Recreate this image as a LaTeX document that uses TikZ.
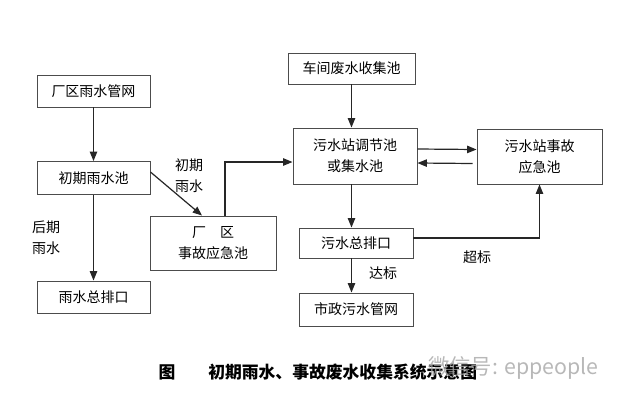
\documentclass[tikz,border=0pt]{standalone}
\usepackage{fontspec}
\setmainfont{Noto Sans CJK SC}
\usepackage{tikz}
\usetikzlibrary{arrows.meta,calc}

\tikzset{
  box/.style={draw=black!70,line width=0.7pt,inner sep=0pt,align=center,font=\fontsize{10.5}{16}\selectfont},
  lbl/.style={inner sep=0pt,align=center,font=\fontsize{10.5}{16}\selectfont},
  arr/.style={draw=black!85,line width=0.9pt,-{Triangle[length=7pt,width=5.5pt]}}
}

\begin{document}
\begin{tikzpicture}[x=0.75pt,y=0.75pt,yscale=-1,xscale=1]
\useasboundingbox (0,0) rectangle (640,401);

% left column: rain water
\node [box,minimum width=84.75pt,minimum height=24pt] (rainnet) at (93.5,91) {厂区雨水管网};
\node [box,minimum width=84.75pt,minimum height=24.75pt] (firstpool) at (93.5,178) {初期雨水池};
\node [box,minimum width=84.75pt,minimum height=24pt] (rainout) at (93.5,297) {雨水总排口};
\node [box,minimum width=94.5pt,minimum height=40.5pt] (plantpool) at (213,243) {厂　区\\事故应急池};

% middle and right: waste water
\node [box,minimum width=95.25pt,minimum height=23.25pt] (workshop) at (351.5,68.5) {车间废水收集池};
\node [box,minimum width=93pt,minimum height=42pt] (regpool) at (355,156) {污水站调节池\\或集水池};
\node [box,minimum width=93.75pt,minimum height=41.25pt] (stnpool) at (539.5,156.5) {污水站事故\\应急池};
\node [box,minimum width=85.5pt,minimum height=22.5pt] (sewout) at (356,243) {污水总排口};
\node [box,minimum width=85.5pt,minimum height=24.75pt] (citynet) at (356,309.5) {市政污水管网};

% labels
\node [lbl] (lblfirst) at (189,176) {初期\\雨水};
\node [lbl] (lbllater) at (46,238) {后期\\雨水};
\node [lbl] (lblok) at (383,273) {达标};
\node [lbl] (lblover) at (477,257) {超标};

% arrows
\draw [arr] (rainnet) -- (firstpool);
\draw [arr] (firstpool) -- (rainout);
\draw [arr] ($(firstpool.east)+(0,-6)$) -- ($(plantpool.north)+(-11,0)$);
\draw [arr] ($(plantpool.north)+(12,0)$) |- ($(regpool.west)+(0,6)$);
\draw [arr] (workshop.south) -- (workshop.south |- regpool.north);
\draw [arr] ($(regpool.east)+(0,-7)$) -- ($(stnpool.west)+(0,-7)$);
\draw [arr] ($(stnpool.west)+(-4,7)$) -- ($(regpool.east)+(0,7)$);
\draw [arr] (regpool.south -| workshop.south) -- (sewout.north -| workshop.south);
\draw [arr] (sewout.south -| workshop.south) -- (citynet.north -| workshop.south);
\draw [arr] ($(sewout.east)+(0,-5)$) -| (stnpool.south);

% caption
\node [inner sep=0pt,font=\fontsize{12.6}{14}\selectfont\bfseries] (fig) at (167,372) {图};
\node [inner sep=0pt,anchor=west,font=\fontsize{12.6}{14}\selectfont\bfseries] (caption) at (208,372) {初期雨水、事故废水收集系统示意图};
\node [inner sep=0pt,anchor=west,text=black!35,opacity=0.8,font=\fontsize{16}{18}\selectfont] (mark) at (428,368) {微信号: eppeople};

\end{tikzpicture}
\end{document}
